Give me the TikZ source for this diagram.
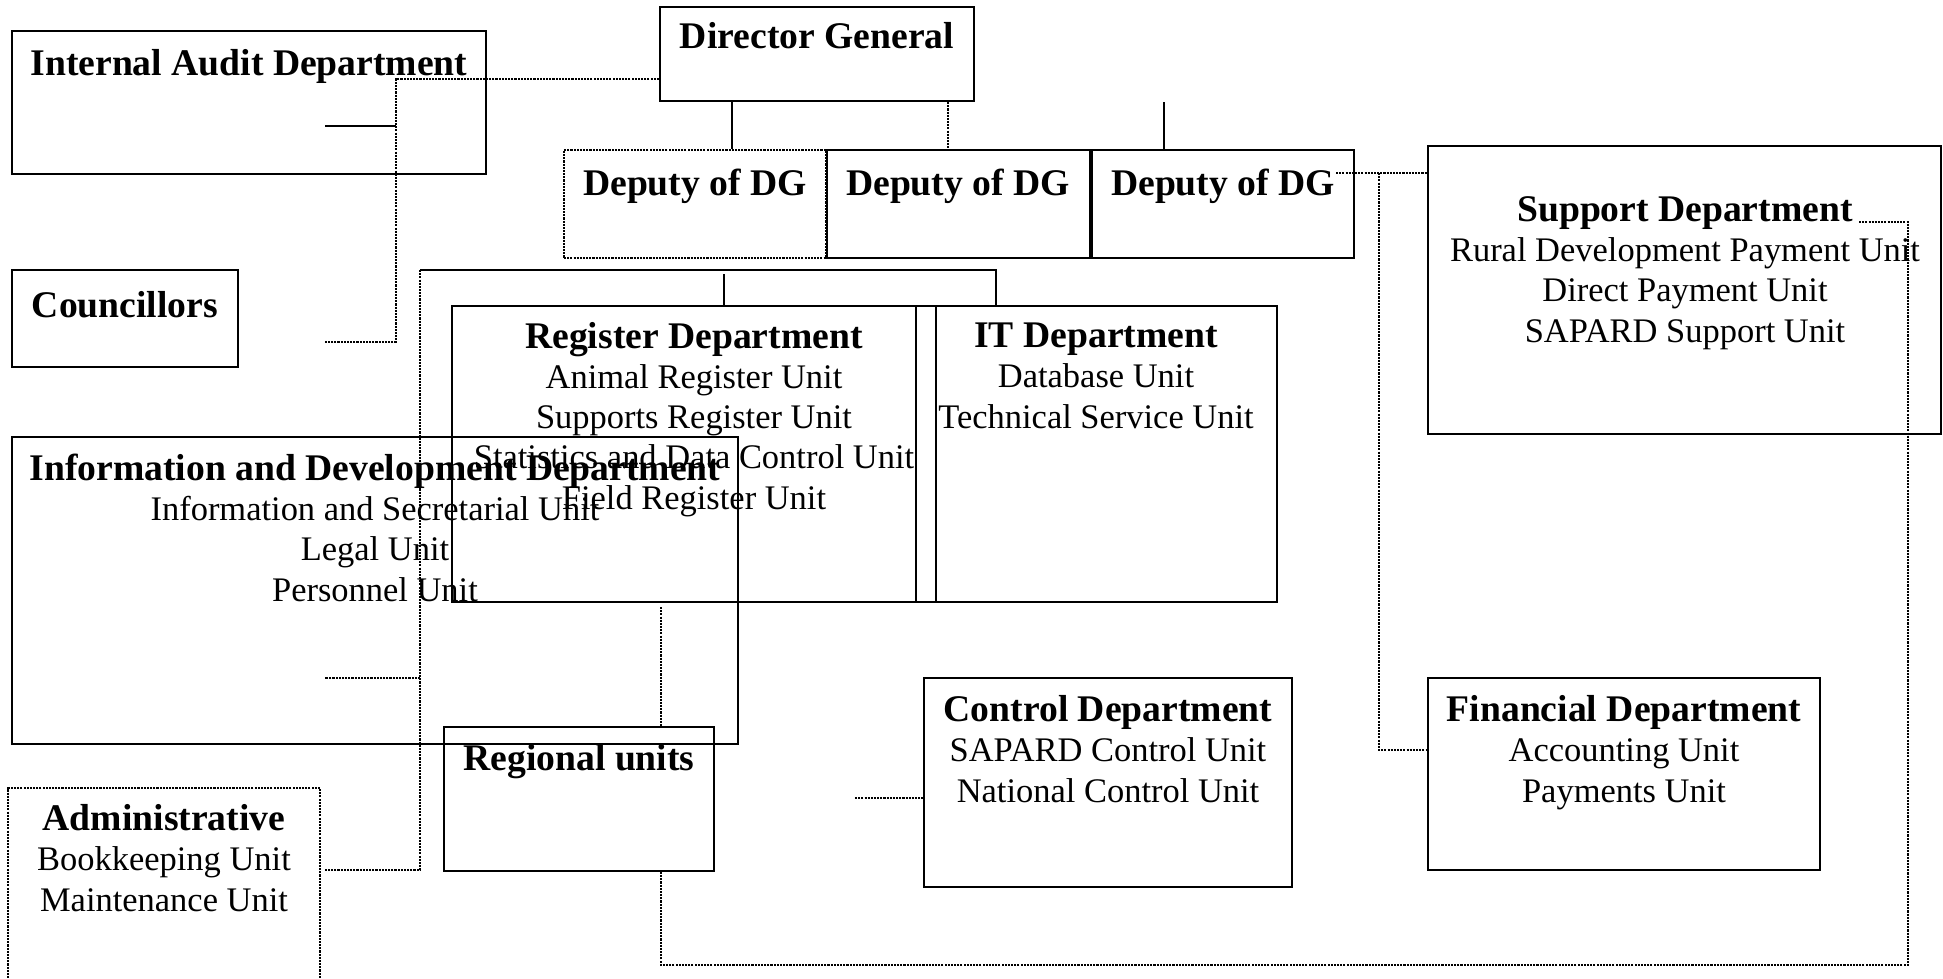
\documentclass[tikz,border=0pt]{standalone}
\usepackage{fontspec}
\setmainfont{Liberation Serif}
\usetikzlibrary{fit}
\newcommand{\deptname}[1]{{\fontsize{10.7}{11.4}\selectfont\bfseries #1}}
\begin{document}
\begin{tikzpicture}[x=0.01cm,y=-0.01cm,
  box/.style={draw,line width=0.6pt,inner sep=0pt},
  dbox/.style={box,dash pattern=on 0.6pt off 0.3pt},
  link/.style={line width=0.5pt},
  dlink/.style={line width=0.6pt,dash pattern=on 0.6pt off 0.3pt},
  txt/.style={anchor=base,align=center,inner sep=0pt,font=\fontsize{9.8}{11.4}\selectfont}]
\clip (0,0) rectangle (1943,978);
% boxes
\node[box,fit={(12,31) (486,174)}] (audit) {};
\node[box,fit={(12,270) (238,367)}] (counc) {};
\node[box,fit={(660,7) (974,101)}] (dg) {};
\node[dbox,fit={(564,150) (826,258)}] (dep1) {};
\node[box,fit={(827,150) (1090,258)}] (dep2) {};
\node[box,fit={(1092,150) (1354,258)}] (dep3) {};
\node[box,fit={(1428,146) (1941,434)}] (sup) {};
\node[box,fit={(452,306) (936,602)}] (regist) {};
\node[box,fit={(916,306) (1277,602)}] (itd) {};
\node[box,fit={(12,437) (738,744)}] (info) {};
\node[box,fit={(444,727) (714,871)}] (regu) {};
\node[dbox,fit={(8,788) (320,995)}] (admin) {};
\node[box,fit={(924,678) (1292,887)}] (ctrl) {};
\node[box,fit={(1428,678) (1820,870)}] (fin) {};
% texts (anchor base = last line)
\node[txt] (audittxt) at (249,75) {\deptname{Internal Audit Department}};
\node[txt] (counctxt) at (125,317) {\deptname{Councillors}};
\node[txt] (dgtxt) at (817,48) {\deptname{Director General}};
\node[txt] (dep1txt) at (695,195) {\deptname{Deputy of DG}};
\node[txt] (dep2txt) at (958,195) {\deptname{Deputy of DG}};
\node[txt] (dep3txt) at (1223,195) {\deptname{Deputy of DG}};
\node[txt] (suptxt) at (1685,342) {\deptname{Support Department}\\Rural Development Payment Unit\\Direct Payment Unit\\SAPARD Support Unit};
\node[txt] (registtxt) at (694,509) {\deptname{Register Department}\\Animal Register Unit\\Supports Register Unit\\Statistics and Data Control Unit\\Field Register Unit};
\node[txt] (itdtxt) at (1096,428) {\deptname{IT Department}\\Database Unit\\Technical Service Unit};
\node[txt] (infotxt) at (375,601) {\deptname{Information and Development Department}\\Information and Secretarial Unit\\Legal Unit\\Personnel Unit};
\node[txt] (regutxt) at (579,770) {\deptname{Regional units}};
\node[txt] (admintxt) at (164,911) {\deptname{Administrative}\\Bookkeeping Unit\\Maintenance Unit};
\node[txt] (ctrltxt) at (1108,802) {\deptname{Control Department}\\SAPARD Control Unit\\National Control Unit};
\node[txt] (fintxt) at (1624,802) {\deptname{Financial Department}\\Accounting Unit\\Payments Unit};
% connectors
\coordinate (ja) at (396,79);
\coordinate (jb) at (396,342);
\coordinate (jc) at (325,342);
\coordinate (jd) at (396,126);
\coordinate (je) at (325,126);
\draw[dlink] (dg.west |- ja) -- (ja) -- (jb) -- (jc);
\draw[link] (jd) -- (je);
\coordinate (ka) at (732,0);
\coordinate (kb) at (948,0);
\coordinate (kc) at (1164,0);
\draw[link] (dg.south -| ka) -- (dep1.north -| ka);
\draw[dlink] (dg.south -| kb) -- (dep2.north -| kb);
\draw[link] (dg.south -| kc) -- (dep3.north -| kc);
\coordinate (la) at (1336,173);
\coordinate (lb) at (1379,173);
\coordinate (lc) at (1379,750);
\draw[dlink] (la) -- (sup.west |- la);
\draw[dlink] (lb) -- (lc) -- (fin.west |- lc);
\coordinate (ma) at (1859,222);
\coordinate (mb) at (1908,222);
\coordinate (mc) at (1908,965);
\coordinate (md) at (661,965);
\draw[dlink] (ma) -- (mb) -- (mc) -- (md) -- (regu.south -| md);
\coordinate (na) at (420,270);
\coordinate (nb) at (996,270);
\coordinate (nc) at (724,274);
\draw[link] (na) -- (nb) -- (itd.north -| nb);
\draw[link] (nc) -- (regist.north -| nc);
\coordinate (nd) at (420,870);
\coordinate (ne) at (325,870);
\coordinate (nf) at (420,678);
\coordinate (ng) at (325,678);
\draw[dlink] (na) -- (nd) -- (ne);
\draw[dlink] (nf) -- (ng);
\coordinate (pa) at (661,607);
\draw[dlink] (pa) -- (regu.north -| pa);
\coordinate (qa) at (855,798);
\draw[dlink] (qa) -- (ctrl.west |- qa);
\end{tikzpicture}
\end{document}
